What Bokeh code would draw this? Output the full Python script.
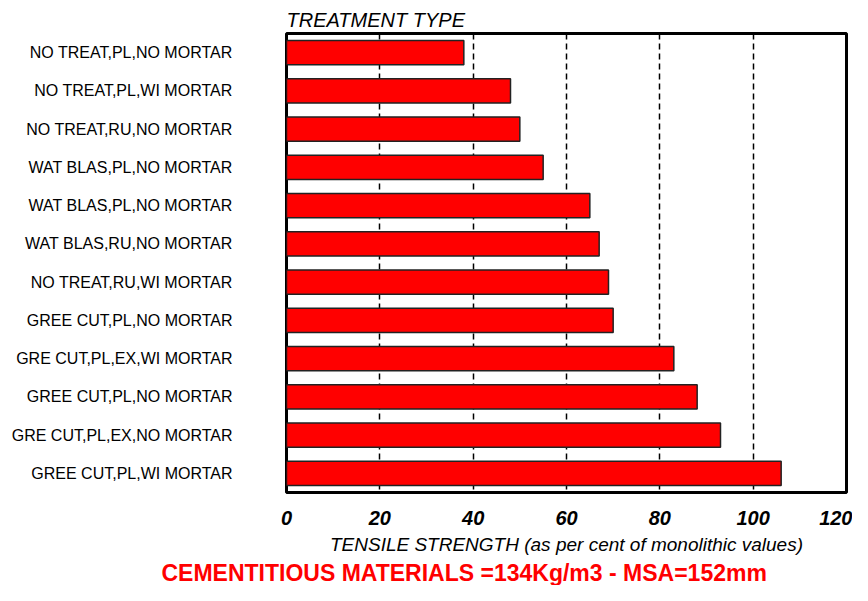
from bokeh.plotting import figure
from bokeh.models import Range1d, FixedTicker, Title
from bokeh.embed import file_html
from bokeh.resources import INLINE

categories = [
    "NO TREAT,PL,NO MORTAR",
    "NO TREAT,PL,WI MORTAR",
    "NO TREAT,RU,NO MORTAR",
    "WAT BLAS,PL,NO MORTAR",
    "WAT BLAS,PL,NO MORTAR",
    "WAT BLAS,RU,NO MORTAR",
    "NO TREAT,RU,WI MORTAR",
    "GREE CUT,PL,NO MORTAR",
    "GRE CUT,PL,EX,WI MORTAR",
    "GREE CUT,PL,NO MORTAR",
    "GRE CUT,PL,EX,NO MORTAR",
    "GREE CUT,PL,WI MORTAR",
]
values = [38, 48, 50, 55, 65, 67, 69, 70, 83, 88, 93, 106]
x_ticks = [0, 20, 40, 60, 80, 100, 120]

n = len(categories)
idx = list(range(n))

p = figure(width=852, height=585, output_backend="svg", toolbar_location=None,
           x_range=Range1d(0, 120), y_range=Range1d(n - 0.5, -0.5),
           min_border_left=286, min_border_right=6, min_border_top=33,
           min_border_bottom=93)

p.hbar(y=idx, right=values, left=0, height=0.63, fill_color="#FF0000",
       line_color="#222222", line_width=1.5)

p.outline_line_color = "black"
p.outline_line_width = 3
p.background_fill_color = "white"
p.border_fill_color = "white"

p.ygrid.grid_line_color = None
p.xgrid.grid_line_color = "black"
p.xgrid.grid_line_dash = "6 4"
p.xgrid.grid_line_width = 1.5

p.xaxis.ticker = FixedTicker(ticks=x_ticks)
p.xaxis.axis_line_color = None
p.xaxis.major_tick_line_color = None
p.xaxis.minor_tick_line_color = None
p.xaxis.major_label_standoff = 12
p.xaxis.major_label_text_font = "Liberation Sans"
p.xaxis.major_label_text_font_style = "bold italic"
p.xaxis.major_label_text_font_size = "20px"
p.xaxis.major_label_text_color = "black"
p.xaxis.axis_label = "TENSILE STRENGTH (as per cent of monolithic values)"
p.xaxis.axis_label_text_font = "Liberation Sans"
p.xaxis.axis_label_text_font_style = "italic"
p.xaxis.axis_label_text_font_size = "19px"
p.xaxis.axis_label_text_color = "black"
p.xaxis.axis_label_standoff = 6

p.yaxis.ticker = FixedTicker(ticks=idx)
p.yaxis.major_label_overrides = {i: c for i, c in zip(idx, categories)}
p.yaxis.axis_line_color = None
p.yaxis.major_tick_line_color = None
p.yaxis.minor_tick_line_color = None
p.yaxis.major_label_standoff = 48
p.yaxis.major_label_text_font = "Liberation Sans"
p.yaxis.major_label_text_font_size = "16px"
p.yaxis.major_label_text_color = "black"

top_title = Title(text="TREATMENT TYPE", text_font="Liberation Sans",
                  text_font_style="italic", text_font_size="20px",
                  text_color="black", align="left", standoff=5, offset=0)
p.add_layout(top_title, "above")

bottom_title = Title(text="CEMENTITIOUS MATERIALS =134Kg/m3 - MSA=152mm",
                     text_font="Liberation Sans", text_font_style="bold",
                     text_font_size="23px", text_color="#FF0000",
                     align="left", offset=-125, standoff=0)
p.add_layout(bottom_title, "below")

open("out.html", "w").write(file_html(p, INLINE))
